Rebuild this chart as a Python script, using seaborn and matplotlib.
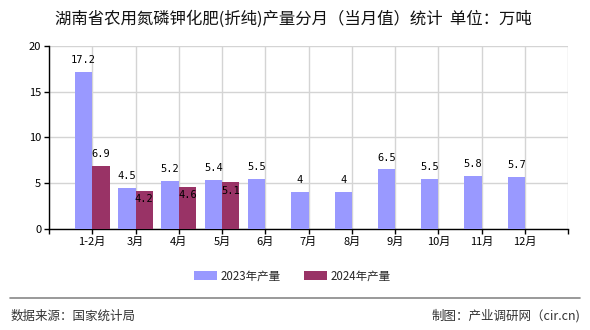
import matplotlib
matplotlib.use("Agg")
import matplotlib.pyplot as plt
import seaborn as sns
import pandas as pd
import numpy as np
from matplotlib.patches import Patch
from matplotlib.lines import Line2D

months = ["1-2月", "3月", "4月", "5月", "6月", "7月", "8月", "9月", "10月", "11月", "12月"]
prod_2023 = [17.2, 4.5, 5.2, 5.4, 5.5, 4, 4, 6.5, 5.5, 5.8, 5.7]
prod_2024 = [6.9, 4.2, 4.6, 5.1, None, None, None, None, None, None, None]
series_names = ["2023年产量", "2024年产量"]
colors = ["#9999FF", "#993366"]
title = "湖南省农用氮磷钾化肥(折纯)产量分月（当月值）统计  单位：万吨"
source = "数据来源：国家统计局"
maker = "制图：产业调研网（cir.cn)"
yticks = [0, 5, 10, 15, 20]

sns.set_theme(style="white")
plt.rcParams['font.family'] = ['Noto Sans CJK SC', 'DejaVu Sans']

df = pd.DataFrame({
    "month": months * 2,
    "value": [np.nan if v is None else v for v in prod_2023 + prod_2024],
    "series": [series_names[0]] * len(months) + [series_names[1]] * len(months),
})

fig = plt.figure(figsize=(5.9, 3.3), dpi=100)
ax = fig.add_axes([0.083, 0.306, 0.880, 0.555])

sns.barplot(data=df, x="month", y="value", hue="series", order=months,
            hue_order=series_names, palette=colors, width=0.8, saturation=1,
            ax=ax, legend=False, zorder=3, linewidth=0)

ax.set_xlim(-1, len(months))
ax.set_ylim(0, 20)
ax.set_yticks(yticks)
ax.set_xticks(range(-1, len(months) + 1))
ax.set_xticklabels([""] + months + [""], fontsize=8)
ax.set_yticklabels([str(t) for t in yticks], fontsize=8)
ax.set_xlabel("")
ax.set_ylabel("")
ax.grid(True, color="#d4d4d4", linewidth=1, zorder=0)
ax.set_axisbelow(True)
for s in ["top", "right"]:
    ax.spines[s].set_visible(False)
for s in ["left", "bottom"]:
    ax.spines[s].set_color("black")
    ax.spines[s].set_linewidth(1)
ax.tick_params(axis="both", direction="out", length=3.5, width=1, color="black",
               bottom=True, left=True, pad=2, labelcolor="black")

mono = "DejaVu Sans Mono"
for i, v in enumerate(prod_2023):
    ax.annotate(f"{v:g}", (i - 0.2, v), xytext=(0, 5), textcoords="offset points",
                ha="center", va="bottom", fontsize=7.5, family=mono, color="black")
for i, v in enumerate(prod_2024):
    if v is None:
        continue
    if abs(prod_2023[i] - v) < 1.5:
        ax.annotate(f"{v:g}", (i + 0.2, v), xytext=(0, -6), textcoords="offset points",
                    ha="center", va="center", fontsize=7.5, family=mono, color="black")
    else:
        ax.annotate(f"{v:g}", (i + 0.2, v), xytext=(0, 5), textcoords="offset points",
                    ha="center", va="bottom", fontsize=7.5, family=mono, color="black")

fig.text(0.497, 0.943, title, ha="center", va="center", fontsize=11.8, color="#111111")

handles = [Patch(facecolor=c, edgecolor="none") for c in colors]
fig.legend(handles, series_names, loc="center", bbox_to_anchor=(0.495, 0.163), ncol=2,
           frameon=False, fontsize=8.3, handlelength=2.0, handleheight=0.8,
           columnspacing=2.0, handletextpad=0.3)

fig.add_artist(Line2D([0.017, 0.983], [0.097, 0.097], color="#888888", linewidth=1.2,
                      transform=fig.transFigure))
fig.text(0.017, 0.042, source, ha="left", va="center", fontsize=9, color="#333333")
fig.text(0.983, 0.042, maker, ha="right", va="center", fontsize=9, color="#333333")

fig.savefig("out.png", dpi=100)
